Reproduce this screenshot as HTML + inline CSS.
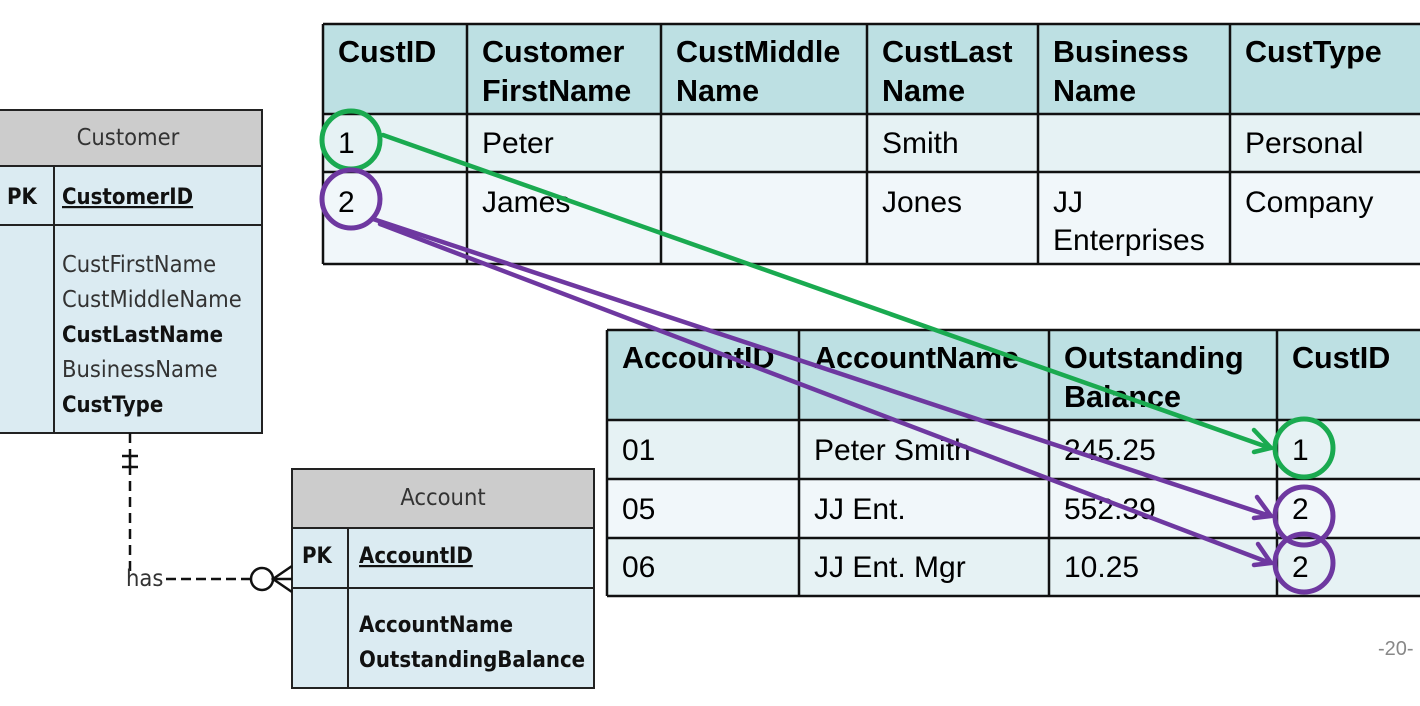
<!DOCTYPE html>
<html><head><meta charset="utf-8"><style>
html,body{margin:0;padding:0;background:#fff;}
svg{display:block;}
.h{font-family:"Liberation Sans",sans-serif;font-weight:bold;font-size:30.5px;fill:#000;}
.c{font-family:"Liberation Sans",sans-serif;font-size:30px;fill:#000;}
.e{font-family:"DejaVu Sans Condensed","Liberation Sans",sans-serif;font-size:23.5px;fill:#333;}
.eb{font-family:"DejaVu Sans Condensed","Liberation Sans",sans-serif;font-size:22px;fill:#111;font-weight:bold;}
</style></head><body>
<svg width="1420" height="706" viewBox="0 0 1420 706" xmlns="http://www.w3.org/2000/svg">
<rect x="323" y="24" width="1110" height="90" fill="#bde0e3"/>
<rect x="323" y="114" width="1110" height="58" fill="#e6f2f4"/>
<rect x="323" y="172" width="1110" height="92" fill="#f1f7fa"/>
<g stroke="#111" stroke-width="2.5" fill="none">
<path d="M323 24H1433M323 114H1433M323 172H1433M323 264H1433"/>
<path d="M323 24V264M467 24V264M661 24V264M867 24V264M1038 24V264M1230 24V264"/>
</g>
<text class="h" x="338" y="62">CustID</text>
<text class="h" x="482" y="62">Customer</text><text class="h" x="482" y="101">FirstName</text>
<text class="h" x="676" y="62">CustMiddle</text><text class="h" x="676" y="101">Name</text>
<text class="h" x="882" y="62">CustLast</text><text class="h" x="882" y="101">Name</text>
<text class="h" x="1053" y="62">Business</text><text class="h" x="1053" y="101">Name</text>
<text class="h" x="1245" y="62">CustType</text>
<text class="c" x="338" y="153">1</text><text class="c" x="482" y="153">Peter</text><text class="c" x="882" y="153">Smith</text><text class="c" x="1245" y="153">Personal</text>
<text class="c" x="338" y="212">2</text><text class="c" x="482" y="212">James</text><text class="c" x="882" y="212">Jones</text><text class="c" x="1053" y="212">JJ</text><text class="c" x="1053" y="250">Enterprises</text><text class="c" x="1245" y="212">Company</text>

<rect x="607" y="330" width="830" height="90" fill="#bde0e3"/>
<rect x="607" y="420" width="830" height="59" fill="#e6f2f4"/>
<rect x="607" y="479" width="830" height="59" fill="#f1f7fa"/>
<rect x="607" y="538" width="830" height="58" fill="#e6f2f4"/>
<g stroke="#111" stroke-width="2.5" fill="none">
<path d="M607 330H1437M607 420H1437M607 479H1437M607 538H1437M607 596H1437"/>
<path d="M607 330V596M799 330V596M1049 330V596M1277 330V596"/>
</g>
<text class="h" x="622" y="368">AccountID</text>
<text class="h" x="814" y="368">AccountName</text>
<text class="h" x="1064" y="368">Outstanding</text><text class="h" x="1064" y="407">Balance</text>
<text class="h" x="1292" y="368">CustID</text>
<text class="c" x="622" y="460">01</text><text class="c" x="814" y="460">Peter Smith</text><text class="c" x="1064" y="460">245.25</text><text class="c" x="1292" y="460">1</text>
<text class="c" x="622" y="519">05</text><text class="c" x="814" y="519">JJ Ent.</text><text class="c" x="1064" y="519">552.39</text><text class="c" x="1292" y="519">2</text>
<text class="c" x="622" y="577">06</text><text class="c" x="814" y="577">JJ Ent. Mgr</text><text class="c" x="1064" y="577">10.25</text><text class="c" x="1292" y="577">2</text>

<rect x="-5" y="110" width="267" height="56" fill="#cccccc"/>
<rect x="-5" y="166" width="267" height="267" fill="#dbebf2"/>
<g stroke="#222" stroke-width="2" fill="none">
<path d="M-5 110H262V433H-5M-5 166H262M-5 225H262M54 166V433"/>
</g>
<text class="e" x="128" y="145" text-anchor="middle">Customer</text>
<text class="eb" x="7" y="204">PK</text>
<text class="eb" x="62" y="204" text-decoration="underline">CustomerID</text>
<text class="e" x="62" y="272">CustFirstName</text>
<text class="e" x="62" y="307">CustMiddleName</text>
<text class="eb" x="62" y="342">CustLastName</text>
<text class="e" x="62" y="377">BusinessName</text>
<text class="eb" x="62" y="412">CustType</text>

<rect x="292" y="469" width="302" height="59" fill="#cccccc"/>
<rect x="292" y="528" width="302" height="160" fill="#dbebf2"/>
<g stroke="#222" stroke-width="2" fill="none">
<path d="M292 469H594V688H292ZM292 528H594M292 588H594M348 528V688"/>
</g>
<text class="e" x="443" y="505" text-anchor="middle">Account</text>
<text class="eb" x="302" y="563">PK</text>
<text class="eb" x="359" y="563" text-decoration="underline">AccountID</text>
<text class="eb" x="359" y="632">AccountName</text>
<text class="eb" x="359" y="667">OutstandingBalance</text>

<g stroke="#111" stroke-width="2.5" fill="none">
<path d="M130 433V572" stroke-dasharray="10,6"/>
<path d="M122 456H138M122 467H138M130 456V467"/>
<path d="M166 579H250" stroke-dasharray="10,5"/>
<circle cx="262" cy="579" r="11"/>
<path d="M292 566L273 579L292 592M273 579H292"/>
</g>
<text class="e" x="126" y="586" font-size="21">has</text>

<g fill="none" stroke-width="4.5" stroke-linecap="round">
<circle cx="351" cy="140" r="29" stroke="#1aaa50" stroke-width="5"/>
<circle cx="351" cy="199" r="29" stroke="#6e38a0" stroke-width="5"/>
<circle cx="1304" cy="448" r="29" stroke="#1aaa50" stroke-width="5"/>
<circle cx="1304" cy="516" r="29" stroke="#6e38a0" stroke-width="5"/>
<circle cx="1304" cy="563" r="29" stroke="#6e38a0" stroke-width="5"/>
<path d="M383 135L1270 448M1254 430L1271 448L1254 452" stroke="#1aaa50"/>
<path d="M373 219L1270 516M1257 497L1271 516L1254 518" stroke="#6e38a0"/>
<path d="M380 224L1270 563M1258 544L1271 563L1254 565" stroke="#6e38a0"/>
</g>
<text x="1378" y="655" font-family="Liberation Sans,sans-serif" font-size="20" fill="#888">-20-</text>
</svg>
</body></html>
